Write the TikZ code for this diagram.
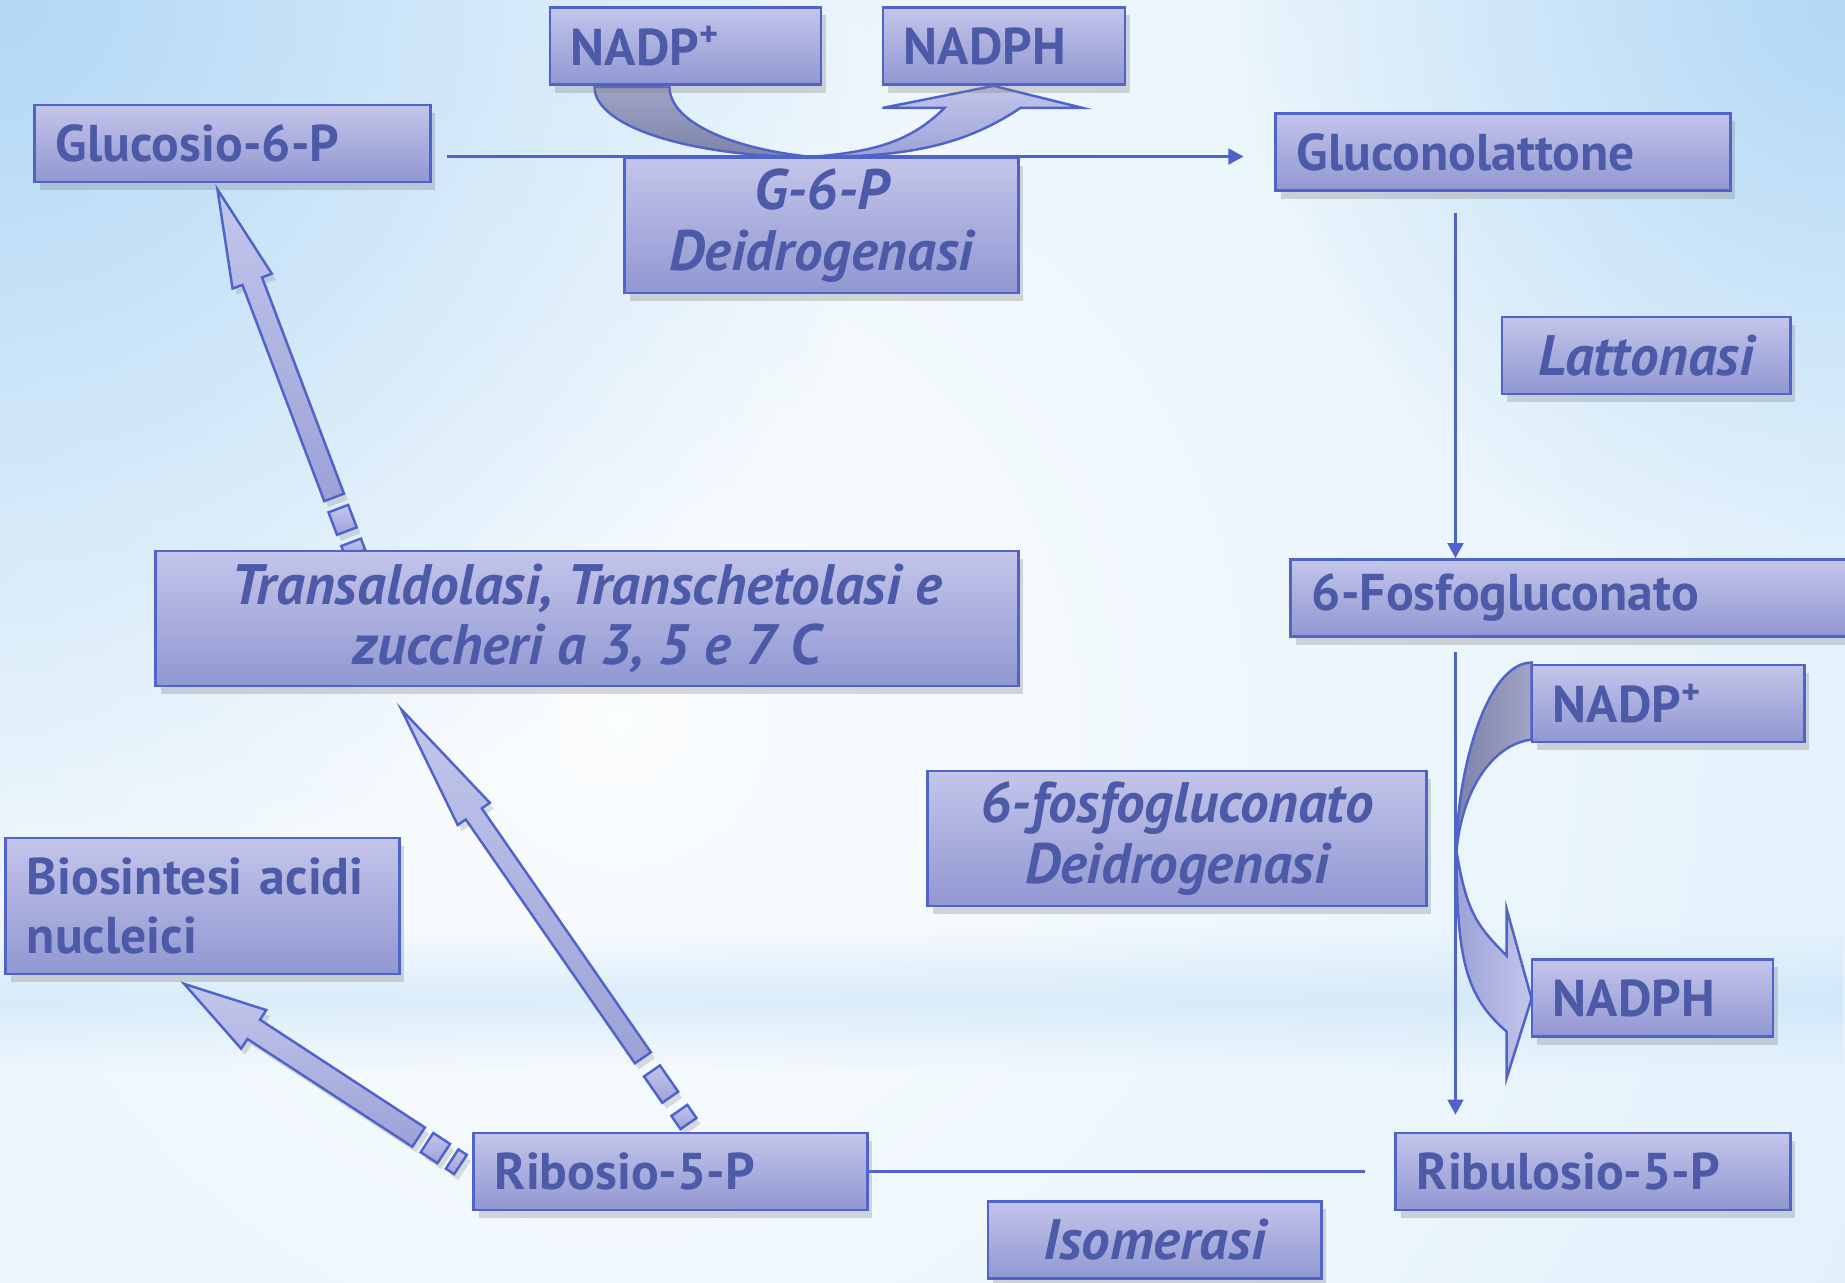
\documentclass[tikz,border=0pt]{standalone}
\usepackage{fontspec}
\setmainfont{PT Sans}
\usetikzlibrary{arrows.meta,calc,shadows,fadings}

\definecolor{boxtop}{HTML}{C3C5EA}
\definecolor{boxbot}{HTML}{9197D2}
\definecolor{boxline}{HTML}{4F63CB}
\definecolor{txtblue}{HTML}{4C5AA8}
\definecolor{bgmid}{HTML}{D9EDFB}
\definecolor{bgcorner}{HTML}{B3D8F5}
\definecolor{darkband}{HTML}{7D83A9}
\definecolor{darkband2}{HTML}{A0A4C6}
\definecolor{arrlight}{HTML}{C3C6EB}
\definecolor{arrdark}{HTML}{9CA2D7}

\pgfdeclarelayer{bg}
\pgfdeclarelayer{back}
\pgfsetlayers{bg,back,main}

\tikzfading[name=glow, inner color=transparent!0, outer color=transparent!100]
\tikzfading[name=band, top color=transparent!100, bottom color=transparent!100, middle color=transparent!35]

\newcommand{\boxfont}{\fontsize{14.7}{16.5}\selectfont\bfseries}
\newcommand{\enzfont}{\fontsize{16.2}{17.3}\selectfont\bfseries\itshape}

% striped block arrow: tail, tip, half shaft, half head, head length, stripe unit (cm)
\newcommand{\stripearrow}[6]{%
  \path let \p1=($#2-#1$) in \pgfextra{%
    \pgfmathsetmacro\tmpang{atan2(\y1,\x1)}\xdef\arang{\tmpang}%
    \pgfmathsetmacro\tmplen{veclen(\x1,\y1)}\xdef\arlen{\tmplen}};
  \begin{scope}[shift={#1}, rotate=\arang]
    \filldraw[blockarrow] (0pt,{-#3cm}) rectangle ({#6cm},{#3cm});
    \filldraw[blockarrow] ({2*#6cm},{-#3cm}) rectangle ({4*#6cm},{#3cm});
    \filldraw[blockarrow] ({5*#6cm},{-#3cm}) -- ({\arlen pt-#5cm},{-#3cm})
      -- ({\arlen pt-#5cm},{-#4cm}) -- ({\arlen pt},0pt)
      -- ({\arlen pt-#5cm},{#4cm}) -- ({\arlen pt-#5cm},{#3cm})
      -- ({5*#6cm},{#3cm}) -- cycle;
  \end{scope}}

\begin{document}
\begin{tikzpicture}[x=0.01cm, y=-0.01cm]
\tikzstyle{box}=[draw=boxline, line width=0.8pt, top color=boxtop, bottom color=boxbot, text=txtblue,
  drop shadow={opacity=0.3, shadow xshift=0.05cm, shadow yshift=-0.08cm}]
\tikzstyle{molbox}=[box, font=\boxfont, align=left, inner xsep=0.21cm, inner ysep=0pt, minimum height=0.77cm]
\tikzstyle{enzbox}=[box, font=\enzfont, align=center, inner sep=0pt, minimum height=0.77cm]
\tikzstyle{flow}=[draw=boxline, line width=0.6pt]
\tikzstyle{flowarrow}=[flow, -{Triangle[length=0.15cm, width=0.16cm]}]
\tikzstyle{blockarrow}=[draw=boxline, line width=0.7pt, top color=arrlight, bottom color=arrdark,
  drop shadow={opacity=0.25, shadow xshift=0.04cm, shadow yshift=-0.06cm}]
\tikzstyle{bandback}=[draw=boxline, line width=0.7pt, top color=darkband2, bottom color=darkband]
\tikzstyle{bandfront}=[draw=boxline, line width=0.7pt, top color=arrlight, bottom color=arrdark]
\tikzstyle{bandback2}=[draw=boxline, line width=0.7pt, left color=darkband, right color=darkband2]
\tikzstyle{bandfront2}=[draw=boxline, line width=0.7pt, left color=arrdark, right color=arrlight]

\useasboundingbox (0,0) rectangle (1845,1283);

% sfondo
\begin{pgfonlayer}{bg}
\fill[bgmid] (0,0) rectangle (1845,1283);
\fill[white, opacity=0.9, path fading=glow] (620,720) circle (19cm);
\fill[bgcorner, path fading=glow] (0,0) circle (9cm);
\fill[bgcorner, path fading=glow] (1845,0) circle (6cm);
\fill[bgcorner, opacity=0.6, path fading=band] (0,930) rectangle (1845,1070);
\end{pgfonlayer}

% riquadri
\node[molbox, text width=3.53cm] (gluc) at (232.5,143.5) {Glucosio-6-P};
\node[molbox, text width=2.29cm] (nadpa) at (685.5,46) {NADP\textsuperscript{+}};
\node[molbox, text width=2.00cm] (nadpha) at (1004,46) {NADPH};
\node[enzbox, minimum width=3.93cm, minimum height=1.35cm] (g6pd) at (821.5,225.5) {G-6-P\\Deidrogenasi};
\node[molbox, text width=4.12cm] (glucl) at (1503,152) {Gluconolattone};
\node[enzbox, minimum width=2.88cm] (latt) at (1646,355.5) {Lattonasi};
\node[molbox, text width=5.37cm] (fosfo) at (1580.5,598) {6-Fosfogluconato};
\node[molbox, text width=2.30cm] (nadpb) at (1668,703.5) {NADP\textsuperscript{+}};
\node[enzbox, minimum width=4.98cm, minimum height=1.35cm] (fgd) at (1177,838.5) {6-fosfogluconato\\Deidrogenasi};
\node[molbox, text width=1.99cm] (nadphb) at (1652.5,998) {NADPH};
\node[molbox, text width=3.51cm, minimum height=1.36cm] (bios) at (202.5,906) {Biosintesi acidi\\nucleici};
\node[enzbox, minimum width=8.62cm, minimum height=1.35cm] (trans) at (587,618.5) {Transaldolasi, Transchetolasi e\\zuccheri a 3, 5 e 7 C};
\node[molbox, text width=3.51cm] (ribo) at (670.5,1171.5) {Ribosio-5-P};
\node[molbox, text width=3.52cm] (ribu) at (1593,1171.5) {Ribulosio-5-P};
\node[enzbox, minimum width=3.33cm] (isom) at (1154.5,1240) {Isomerasi};

\begin{pgfonlayer}{back}
% frecce sottili
\coordinate (vx) at ($(glucl.south west)+(181,21)$);
\draw[flowarrow] ($(gluc.east |- g6pd.north)+(15,0)$) -- ($(glucl.west |- g6pd.north)+(-31,0)$);
\draw[flowarrow] (vx) -- (vx |- fosfo.north);
\draw[flowarrow] ($(vx |- fosfo.south)+(0,14)$) -- ($(vx |- ribu.north)+(0,-17)$);
\draw[flow] (ribo.east) -- ($(ribu.west)+(-29,0)$);

% frecce a blocchi
\coordinate (t1) at ($(ribo.west)+(-12,-7)$);
\coordinate (p1) at ($(bios.south west)+(179,8)$);
\coordinate (t2) at ($(trans.north west)+(201,4)$);
\coordinate (p2) at ($(gluc.south west)+(184,6)$);
\coordinate (t3) at ($(ribo.north west)+(216,-8)$);
\coordinate (p3) at ($(trans.south west)+(247,22)$);
\stripearrow{(t1)}{(p1)}{0.115}{0.23}{0.83}{0.10}
\stripearrow{(t2)}{(p2)}{0.105}{0.21}{0.98}{0.12}
\stripearrow{(t3)}{(p3)}{0.097}{0.195}{1.27}{0.16}

% NADP+ -> NADPH
\begin{scope}[shift={(nadpa.south west)}]
\filldraw[bandback] (46,1) .. controls +(0,40) and +(-120,0) .. (263,71)
  .. controls +(-80,-8) and +(0,35) .. (121,1) -- cycle;
\filldraw[bandfront] (263,71) .. controls +(90,0) and +(-60,40) .. (472,22) -- (534,22) -- (445,0)
  -- (334,22) -- (396,22) .. controls +(-35,35) and +(60,-5) .. (263,71) -- cycle;
\end{scope}
\begin{scope}[shift={(nadpb.north west)}]
\filldraw[bandback2] (1,-1) .. controls +(-45,0) and +(0,-80) .. (-74,188)
  .. controls +(5,-60) and +(-40,5) .. (1,76) -- cycle;
\filldraw[bandfront2] (-74,188) .. controls +(0,110) and +(-40,-35) .. (-24,368) -- (-24,415) -- (1,335)
  -- (-24,245) -- (-24,292) .. controls +(-30,-30) and +(10,60) .. (-74,188) -- cycle;
\end{scope}
\end{pgfonlayer}
\end{tikzpicture}
\end{document}
